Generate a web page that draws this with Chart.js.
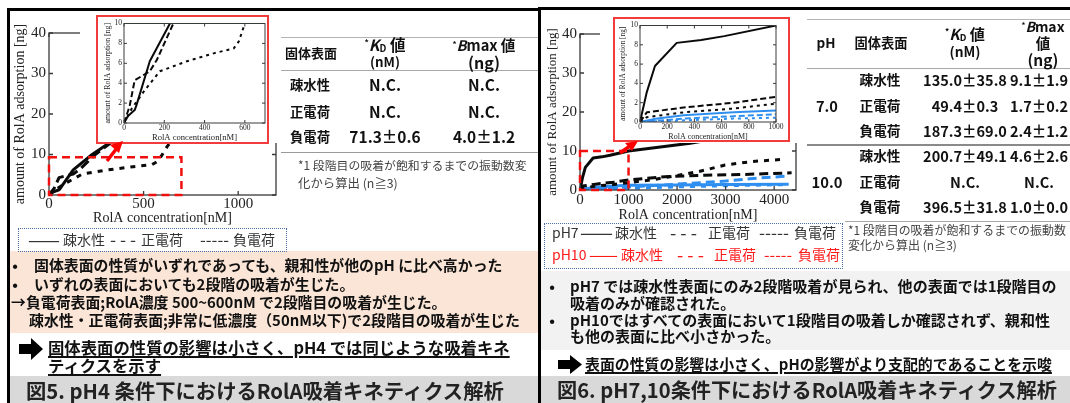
<!DOCTYPE html>
<html><head><meta charset="utf-8">
<script src="https://cdn.jsdelivr.net/npm/chart.js@4.4.1/dist/chart.umd.min.js"></script>
<style>
html,body{margin:0;padding:0;background:#fff;}
#stage{position:relative;width:1070px;height:403px;overflow:hidden;background:#fff;font-family:'Noto Sans CJK JP','Noto Sans',sans-serif;}
.abs{position:absolute;}
.t{position:absolute;white-space:nowrap;line-height:1;}
canvas{display:block;}
</style></head><body>
<div id="stage">
 <div class="abs" style="left:10px;top:251px;width:528px;height:82px;background:#fbe5d6"></div>
 <div class="abs" style="left:10px;top:376px;width:528px;height:27px;background:#d9d9d9"></div>
 <div class="abs" style="left:541px;top:271px;width:529px;height:79px;background:#f2f2f2"></div>
 <div class="abs" style="left:541px;top:376px;width:529px;height:27px;background:#d9d9d9"></div>
 <!-- table rules -->
 <div class="abs" style="left:281px;top:37px;width:257px;height:1px;background:#b4b4b4"></div>
 <div class="abs" style="left:281px;top:70px;width:257px;height:1px;background:#a8a8a8"></div>
 <div class="abs" style="left:281px;top:152px;width:257px;height:1px;background:#9a9a9a"></div>
 <div class="abs" style="left:807px;top:19px;width:263px;height:1px;background:#b4b4b4"></div>
 <div class="abs" style="left:807px;top:68px;width:263px;height:1px;background:#a8a8a8"></div>
 <div class="abs" style="left:807px;top:144px;width:263px;height:2px;background:#8a8a8a"></div>
 <div class="abs" style="left:845px;top:221px;width:225px;height:1px;background:#a8a8a8"></div>
 <!-- legend frames -->
 <div class="abs" style="left:18px;top:228px;width:267px;height:22px;border:1px dotted #4a6fa5"></div>
 <div class="abs" style="left:544px;top:223px;width:297px;height:44px;border:1px dotted #4a6fa5"></div>
 <!-- panel borders -->
 <div class="abs" style="left:7px;top:8px;width:3px;height:395px;background:#000"></div>
 <div class="abs" style="left:7px;top:8px;width:533px;height:3px;background:#000"></div>
 <div class="abs" style="left:538px;top:7px;width:3px;height:396px;background:#000"></div>
 <div class="abs" style="left:538px;top:7px;width:532px;height:3px;background:#000"></div>
 <!-- charts -->
 <canvas id="c1" class="abs" width="300" height="230" style="left:0;top:0"></canvas>
 <canvas id="c3" class="abs" width="280" height="230" style="left:540px;top:0"></canvas>
 <div class="abs" style="left:80px;top:12px;width:200px;height:131px;background:#fff"></div>
 <div class="abs" style="left:600px;top:10px;width:200px;height:133px;background:#fff"></div>
 <canvas id="c2" class="abs" width="169" height="126" style="left:98px;top:17px"></canvas>
 <canvas id="c4" class="abs" width="173" height="124" style="left:615px;top:19px"></canvas>
 <div class="abs" style="left:96px;top:15px;width:169px;height:125px;border:2px solid #f23b3b"></div>
 <div class="abs" style="left:613px;top:17px;width:173px;height:121px;border:2px solid #f23b3b"></div>
 <svg class="abs" style="left:0;top:0" width="1070" height="403">
  <line x1="107" y1="161" x2="117" y2="148" stroke="#f00" stroke-width="3.5"/>
  <polygon points="123,141 110,145 119,153" fill="#f00"/>
  <line x1="620" y1="153" x2="630" y2="146" stroke="#f00" stroke-width="3.5"/>
  <polygon points="638,141 625,143 632,151" fill="#f00"/>
  <polygon points="19,344 31,344 31,338 43,349 31,360 31,354 19,354" fill="#000"/>
  <polygon points="558,360 570,360 570,355 582,364.5 570,374 570,369 558,369" fill="#000"/>
 </svg>
</div>
<script>
// ---------- DATA ----------
// Fig.5 pH4 : RolA concentration [nM] vs amount of RolA adsorption [ng]
const ph4HydroConc = [0, 20, 53, 62, 128, 228, 330, 420];
const ph4HydroAds  = [0, 0.7, 1.3, 1.8, 6.2, 10, 13.2, 16];
const ph4PosConc   = [0, 28, 53, 95, 128, 162, 245, 330];
const ph4PosAds    = [0, 1.7, 4.3, 4.8, 5.2, 6.3, 10, 13];
const ph4NegConc   = [0, 40, 103, 178, 312, 445, 545, 570, 595, 625, 660];
const ph4NegAds    = [0, 1.5, 3.3, 5.2, 6.2, 7.0, 7.5, 8.2, 9.7, 12, 14];
// Fig.6 pH7 / pH10
const ph7HydroConc  = [0, 50, 110, 270, 450, 620, 1000, 2270, 3000, 4400];
const ph7HydroAds   = [0, 3.1, 5.8, 8.2, 8.5, 8.9, 10, 12, 13.5, 15];
const ph7PosConc    = [0, 50, 320, 690, 1000, 1750, 2580, 3400, 4360];
const ph7PosAds     = [0, 1.0, 1.5, 2.0, 2.6, 3.4, 3.8, 4.0, 4.4];
const ph7NegConc    = [0, 50, 320, 690, 1000, 1480, 2440, 2990, 3540, 4230];
const ph7NegAds     = [0, 0.5, 1.0, 1.4, 1.9, 2.6, 4.7, 6.4, 7.3, 7.9];
const ph10HydroConc = [0, 100, 320, 690, 1000, 2000, 3000, 4300];
const ph10HydroAds  = [0, 0.3, 0.7, 1.0, 1.2, 1.3, 1.4, 1.5];
const ph10PosConc   = [0, 320, 690, 1000, 2000, 3000, 3500, 4300];
const ph10PosAds    = [0, 0.35, 0.6, 0.8, 1.5, 2.3, 2.9, 3.6];
const ph10NegConc   = [0, 320, 690, 1000, 2000, 3000, 4300];
const ph10NegAds    = [0, 0.17, 0.35, 0.45, 0.8, 1.1, 1.4];
// tick labels
const ph4MainXTicks  = [0, 500, 1000];
const ph4InsetXTicks = [0, 200, 400, 600];
const ph7MainXTicks  = [0, 1000, 2000, 3000, 4000];
const ph7InsetXTicks = [0, 200, 400, 600, 800, 1000];
const mainYTicks  = [0, 10, 20, 30, 40];
const insetYTicks = [0, 2, 4, 6, 8, 10];
// tables
const surfaces  = ['疎水性', '正電荷', '負電荷'];
const ph4Kd     = ['N.C.', 'N.C.', '71.3±0.6'];
const ph4Bmax   = ['N.C.', 'N.C.', '4.0±1.2'];
const phLabels  = ['7.0', '10.0'];
const ph7Kd     = ['135.0±35.8', '49.4±0.3', '187.3±69.0'];
const ph7Bmax   = ['9.1±1.9', '1.7±0.2', '2.4±1.2'];
const ph10Kd    = ['200.7±49.1', 'N.C.', '396.5±31.8'];
const ph10Bmax  = ['4.6±2.6', 'N.C.', '1.0±0.0'];

// ---------- CHARTS ----------
Chart.defaults.font.family = "'Liberation Serif', serif";
const BLACK = '#0a0a0a', BLUE = '#2f8ff0';
const framePlugin = {
  id: 'frame',
  afterDatasetsDraw(chart, args, o) {
    const {ctx, chartArea: a, scales: {x, y}} = chart;
    ctx.save();
    ctx.setLineDash([]);
    ctx.lineWidth = o.width; ctx.strokeStyle = o.color;
    ctx.strokeRect(a.left, a.top, a.right - a.left, a.bottom - a.top);
    ctx.beginPath();
    x.ticks.forEach(t => { const p = x.getPixelForValue(t.value);
      ctx.moveTo(p, a.bottom); ctx.lineTo(p, a.bottom - o.tick);
      ctx.moveTo(p, a.top); ctx.lineTo(p, a.top + o.tick); });
    y.ticks.forEach(t => { const p = y.getPixelForValue(t.value);
      ctx.moveTo(a.left, p); ctx.lineTo(a.left + o.tick, p);
      ctx.moveTo(a.right, p); ctx.lineTo(a.right - o.tick, p); });
    ctx.stroke();
    if (o.box) {
      const x0 = x.getPixelForValue(o.box.x0), x1 = x.getPixelForValue(o.box.x1);
      const y0 = y.getPixelForValue(o.box.y0), y1 = y.getPixelForValue(o.box.y1);
      ctx.strokeStyle = '#f01010'; ctx.lineWidth = 2.5; ctx.setLineDash([8, 5]);
      ctx.strokeRect(x0, y1, x1 - x0, y0 - y1);
    }
    ctx.restore();
  }
};
function makeChart(id, c) {
  const datasets = c.series.map(s => ({
    data: s.x.map((v, i) => ({x: v, y: s.y[i]})),
    borderColor: s.color, borderWidth: c.lw, borderDash: s.dash ? c.dash[s.dash] : [],
    pointRadius: 0, tension: 0, fill: false, borderJoinStyle: 'round'
  }));
  const tickFont = {family: "'Liberation Serif', serif", size: c.tickSize};
  return new Chart(document.getElementById(id), {
    type: 'line',
    data: {datasets},
    options: {
      responsive: false, animation: false, devicePixelRatio: 1,
      layout: {padding: {top: c.top, right: c.right, left: 0, bottom: 0}},
      plugins: {legend: {display: false}, tooltip: {enabled: false},
        frame: {color: '#3a3a3a', width: c.frameW, tick: c.tickLen, box: c.box}},
      scales: {
        x: {type: 'linear', min: 0, max: c.xMax,
          afterBuildTicks: s => { s.ticks = c.xTicks.map(v => ({value: v})); },
          afterFit: s => { s.height = c.xH; },
          grid: {display: false, drawTicks: false}, border: {display: false},
          ticks: {font: tickFont, color: '#222', padding: c.xTickPad, maxRotation: 0, autoSkip: false, callback: v => String(v)},
          title: {display: true, text: 'RolA concentration[nM]', color: '#222',
            font: {family: "'Liberation Serif', serif", size: c.xTitleSize}, padding: {top: 0, bottom: c.xTitlePad}}},
        y: {type: 'linear', min: 0, max: c.yMax,
          afterBuildTicks: s => { s.ticks = c.yTicks.map(v => ({value: v})); },
          afterFit: s => { s.width = c.yW; },
          grid: {display: false, drawTicks: false}, border: {display: false},
          ticks: {font: tickFont, color: '#222', padding: c.yTickPad, callback: v => String(v)},
          title: {display: true, text: 'amount of RolA adsorption [ng]', color: '#222',
            font: {family: "'Liberation Serif', serif", size: c.yTitleSize}, padding: {top: c.yTitlePad, bottom: 0}}}
      }
    },
    plugins: [framePlugin]
  });
}
const ph4Series = [
  {x: ph4HydroConc, y: ph4HydroAds, color: BLACK},
  {x: ph4PosConc, y: ph4PosAds, color: BLACK, dash: 'long'},
  {x: ph4NegConc, y: ph4NegAds, color: BLACK, dash: 'short'}
];
const ph710Series = [
  {x: ph7HydroConc, y: ph7HydroAds, color: BLACK},
  {x: ph7PosConc, y: ph7PosAds, color: BLACK, dash: 'long'},
  {x: ph7NegConc, y: ph7NegAds, color: BLACK, dash: 'short'},
  {x: ph10HydroConc, y: ph10HydroAds, color: BLUE},
  {x: ph10PosConc, y: ph10PosAds, color: BLUE, dash: 'long'},
  {x: ph10NegConc, y: ph10NegAds, color: BLUE, dash: 'short'}
];
makeChart('c1', {series: ph4Series, lw: 3, dash: {long: [10, 5], short: [5, 6]},
  top: 33, right: 24, xH: 35, yW: 49, xMax: 1200, yMax: 40, xTicks: ph4MainXTicks, yTicks: mainYTicks,
  tickSize: 15, xTitleSize: 14, yTitleSize: 14, xTickPad: 0, yTickPad: 3, xTitlePad: 3, yTitlePad: 11.5,
  frameW: 1.3, tickLen: 4, box: {x0: 0, x1: 700, y0: 0, y1: 9.3}});
makeChart('c3', {series: ph710Series, lw: 3, dash: {long: [9, 5], short: [5, 6]},
  top: 34, right: 24, xH: 40, yW: 40, xMax: 4450, yMax: 40, xTicks: ph7MainXTicks, yTicks: mainYTicks,
  tickSize: 15, xTitleSize: 14, yTitleSize: 13, xTickPad: 1, yTickPad: 3, xTitlePad: 6.5, yTitlePad: 5,
  frameW: 1.3, tickLen: 4, box: {x0: 0, x1: 1000, y0: 0, y1: 10}});
makeChart('c2', {series: ph4Series, lw: 2, dash: {long: [6, 3], short: [3, 4]},
  top: 6, right: 2, xH: 20, yW: 26, xMax: 700, yMax: 10, xTicks: ph4InsetXTicks, yTicks: insetYTicks,
  tickSize: 7.5, xTitleSize: 8.6, yTitleSize: 7.8, xTickPad: 0.5, yTickPad: 2, xTitlePad: 0, yTitlePad: 4.8,
  frameW: 1, tickLen: 3});
makeChart('c4', {series: ph710Series, lw: 2, dash: {long: [6, 3], short: [3, 4]},
  top: 5, right: 12, xH: 21, yW: 25, xMax: 1000, yMax: 10, xTicks: ph7InsetXTicks, yTicks: insetYTicks,
  tickSize: 7.5, xTitleSize: 8, yTitleSize: 7.3, xTickPad: 0.5, yTickPad: 2, xTitlePad: 1.2, yTitlePad: 3.6,
  frameW: 1, tickLen: 3});

// ---------- TEXT ----------
const stage = document.getElementById('stage');
function txt(x, y, html, o) {
  o = o || {};
  const d = document.createElement('div');
  d.className = 't'; d.innerHTML = html;
  d.style.fontWeight = o.b ? '700' : '400';
  d.style.color = o.c || '#111';
  if (o.u) { d.style.textDecoration = 'underline'; d.style.textUnderlineOffset = '2px'; d.style.textDecorationThickness = '1.5px'; }
  let fs = o.fs || 20;
  d.style.fontSize = fs + 'px';
  stage.appendChild(d);
  if (o.w) { const r = d.getBoundingClientRect().width; fs = fs * o.w / r; d.style.fontSize = fs + 'px'; }
  const w = d.getBoundingClientRect().width;
  d.style.left = (o.a === 'c' ? x - w / 2 : x) + 'px';
  d.style.top = (y - fs * 0.5) + 'px';
  d.fs = fs;
  return d;
}
const STAR = '<sup style="font-size:0.55em;vertical-align:0.55em">*</sup>';
const KD = STAR + '<i>K</i><sub style="font-size:0.62em;vertical-align:-0.1em">D</sub> 値';
const BM = STAR + '<i>B</i>max';
// left table
txt(285, 52, '固体表面', {w: 52, b: 1});
txt(385, 45, KD, {w: 41, b: 1, a: 'c'});
txt(385, 62, '(nM)', {w: 30, b: 1, a: 'c'});
txt(484, 45, BM + ' 値', {w: 63, b: 1, a: 'c'});
txt(484, 62, '(ng)', {w: 32, b: 1, a: 'c'});
const lRowY = [85, 112, 137];
surfaces.forEach((s, i) => {
  txt(310, lRowY[i], s, {w: 40, b: 1, a: 'c'});
  txt(385, lRowY[i], ph4Kd[i], {fs: 15.5, b: 1, a: 'c'});
  txt(484, lRowY[i], ph4Bmax[i], {fs: 15.5, b: 1, a: 'c'});
});
txt(298, 165, '*1 段階目の吸着が飽和するまでの振動数変', {w: 229, c: '#444'});
txt(298, 183, '化から算出 (n≧3)', {w: 100, c: '#444'});
// right table
txt(826, 43, 'pH', {w: 19, b: 1, a: 'c'});
txt(881, 43, '固体表面', {w: 53, b: 1, a: 'c'});
txt(965, 34, KD, {w: 40, b: 1, a: 'c'});
txt(965, 52, '(nM)', {w: 31, b: 1, a: 'c'});
txt(1043, 27, BM, {w: 43, b: 1, a: 'c'});
txt(1043, 43, '値', {fs: 14.5, b: 1, a: 'c'});
txt(1043, 60, '(ng)', {w: 31, b: 1, a: 'c'});
const r7Y = [80, 106, 131], r10Y = [156, 182, 207];
txt(827, 106, phLabels[0], {w: 22, b: 1, a: 'c'});
txt(827, 182, phLabels[1], {w: 31, b: 1, a: 'c'});
surfaces.forEach((s, i) => {
  txt(880, r7Y[i], s, {w: 41, b: 1, a: 'c'});
  txt(965, r7Y[i], ph7Kd[i], {fs: 14.5, b: 1, a: 'c'});
  txt(1039, r7Y[i], ph7Bmax[i], {fs: 14.5, b: 1, a: 'c'});
  txt(880, r10Y[i], s, {w: 41, b: 1, a: 'c'});
  txt(965, r10Y[i], ph10Kd[i], {fs: 14.5, b: 1, a: 'c'});
  txt(1039, r10Y[i], ph10Bmax[i], {fs: 14.5, b: 1, a: 'c'});
});
txt(848, 230, '*1 段階目の吸着が飽和するまでの振動数', {w: 218, c: '#444'});
txt(848, 245, '変化から算出 (n≧3)', {w: 109, c: '#444'});
// legends
const LG = {fs: 14, c: '#333'};
txt(28, 239, '——', {w: 32, c: '#333'});
txt(63, 239, '疎水性', LG);
txt(110, 239, '- - -', {w: 26, c: '#333'});
txt(141, 239, '正電荷', LG);
txt(200, 239, '-----', {w: 29, c: '#333'});
txt(233, 239, '負電荷', LG);
txt(552, 232, 'pH7', LG);
txt(580, 232, '——', {w: 33, c: '#333'});
txt(615, 232, '疎水性', LG);
txt(670, 232, '- - -', {w: 27, c: '#333'});
txt(708, 232, '正電荷', LG);
txt(759, 232, '-----', {w: 30, c: '#333'});
txt(794, 232, '負電荷', LG);
const LR = {fs: 14, c: '#ff1a1a'};
txt(552, 254, 'pH10', LR);
txt(589, 254, '——', {w: 29, c: '#ff1a1a'});
txt(621, 254, '疎水性', LR);
txt(677, 254, '- - -', {w: 27, c: '#ff1a1a'});
txt(714, 254, '正電荷', LR);
txt(764, 254, '-----', {w: 28, c: '#ff1a1a'});
txt(798, 254, '負電荷', LR);
// left bullets
const l1 = txt(34, 265, '固体表面の性質がいずれであっても、親和性が他のpH に比べ高かった', {w: 469, b: 1});
const fsL = l1.fs;
txt(15, 265, '•', {fs: fsL, b: 1, a: 'c'});
txt(15, 284, '•', {fs: fsL, b: 1, a: 'c'});
txt(34, 284, 'いずれの表面においても2段階の吸着が生じた。', {fs: fsL, b: 1});
txt(11, 302, '→負電荷表面;RolA濃度 500~600nM で2段階目の吸着が生じた。', {fs: fsL, b: 1});
txt(29, 320, '疎水性・正電荷表面;非常に低濃度（50nM以下)で2段階目の吸着が生じた', {fs: fsL, b: 1});
const a1 = txt(48, 347, '固体表面の性質の影響は小さく、pH4 では同じような吸着キネ', {w: 462, b: 1, u: 1});
txt(48, 365, 'ティクスを示す', {fs: a1.fs, b: 1, u: 1});
txt(26, 390, '図5. pH4 条件下におけるRolA吸着キネティクス解析', {w: 478, b: 1, c: '#222'});
// right bullets
const r1 = txt(570, 286, 'pH7 では疎水性表面にのみ2段階吸着が見られ、他の表面では1段階目の', {w: 487, b: 1});
const fsR = r1.fs;
txt(552, 286, '•', {fs: fsR, b: 1, a: 'c'});
txt(570, 303, '吸着のみが確認された。', {fs: fsR, b: 1});
txt(552, 320, '•', {fs: fsR, b: 1, a: 'c'});
txt(570, 320, 'pH10ではすべての表面において1段階目の吸着しか確認されず、親和性', {fs: fsR, b: 1});
txt(570, 336, 'も他の表面に比べ小さかった。', {fs: fsR, b: 1});
txt(585, 364, '表面の性質の影響は小さく、pHの影響がより支配的であることを示唆', {w: 467, b: 1, u: 1});
txt(557, 390, '図6. pH7,10条件下におけるRolA吸着キネティクス解析', {w: 500, b: 1, c: '#222'});
</script>
</body></html>
